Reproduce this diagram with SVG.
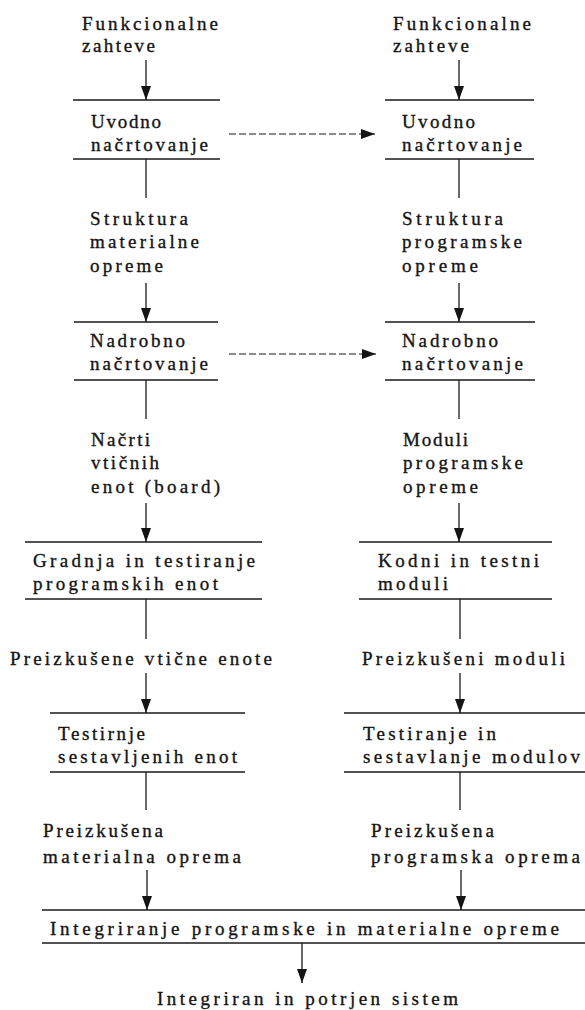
<svg xmlns="http://www.w3.org/2000/svg" width="585" height="1010" viewBox="0 0 585 1010">
  <style>
    text { font-family: "Liberation Serif", "Times New Roman", serif; font-size: 19px; fill: #141414; stroke: #141414; stroke-width: 0.35; }
    .bar { stroke: #1a1a1a; stroke-width: 1.4; }
    .link { stroke: #1a1a1a; stroke-width: 1.3; fill: none; }
    .dash { stroke-dasharray: 7 3; stroke-width: 1.1; }
  </style>
  <defs>
    <marker id="head" markerUnits="userSpaceOnUse" markerWidth="15" markerHeight="11" refX="14" refY="5" orient="auto">
      <path d="M0,0 L14,5 L0,10 z" fill="#141414"/>
    </marker>
  </defs>
  <rect width="585" height="1010" fill="#ffffff"/>

  <!-- left column: hardware flow -->
  <g id="l-requirements">
    <text x="82" y="30" textLength="136" lengthAdjust="spacing">Funkcionalne</text>
    <text x="82" y="52" textLength="73" lengthAdjust="spacing">zahteve</text>
  </g>
  <g id="l-preliminary-design">
    <line class="bar" x1="73" y1="100" x2="220" y2="100"/>
    <text x="91" y="128" textLength="70" lengthAdjust="spacing">Uvodno</text>
    <text x="91" y="151" textLength="117" lengthAdjust="spacing">načrtovanje</text>
    <line class="bar" x1="73" y1="159" x2="220" y2="159"/>
  </g>
  <g id="l-hw-structure">
    <text x="90" y="225" textLength="98" lengthAdjust="spacing">Struktura</text>
    <text x="90" y="248" textLength="109" lengthAdjust="spacing">materialne</text>
    <text x="90" y="272" textLength="73" lengthAdjust="spacing">opreme</text>
  </g>
  <g id="l-detailed-design">
    <line class="bar" x1="74" y1="322" x2="218" y2="322"/>
    <text x="90" y="347" textLength="95" lengthAdjust="spacing">Nadrobno</text>
    <text x="90" y="370" textLength="118" lengthAdjust="spacing">načrtovanje</text>
    <line class="bar" x1="74" y1="380" x2="218" y2="380"/>
  </g>
  <g id="l-board-designs">
    <text x="91" y="446" textLength="59" lengthAdjust="spacing">Načrti</text>
    <text x="91" y="469" textLength="68" lengthAdjust="spacing">vtičnih</text>
    <text x="91" y="493" textLength="129" lengthAdjust="spacing">enot (board)</text>
  </g>
  <g id="l-build-test">
    <line class="bar" x1="25" y1="542" x2="262" y2="542"/>
    <text x="33" y="567" textLength="222" lengthAdjust="spacing">Gradnja in testiranje</text>
    <text x="33" y="590" textLength="185" lengthAdjust="spacing">programskih enot</text>
    <line class="bar" x1="25" y1="599" x2="262" y2="599"/>
  </g>
  <g id="l-tested-boards">
    <text x="10" y="665" textLength="262" lengthAdjust="spacing">Preizkušene vtične enote</text>
  </g>
  <g id="l-assembly-test">
    <line class="bar" x1="50" y1="713" x2="245" y2="713"/>
    <text x="58" y="740" textLength="87" lengthAdjust="spacing">Testirnje</text>
    <text x="58" y="763" textLength="179" lengthAdjust="spacing">sestavljenih enot</text>
    <line class="bar" x1="50" y1="772" x2="245" y2="772"/>
  </g>
  <g id="l-tested-hw">
    <text x="43" y="837" textLength="120" lengthAdjust="spacing">Preizkušena</text>
    <text x="43" y="863" textLength="198" lengthAdjust="spacing">materialna oprema</text>
  </g>

  <!-- right column: software flow -->
  <g id="r-requirements">
    <text x="393" y="30" textLength="138" lengthAdjust="spacing">Funkcionalne</text>
    <text x="393" y="52" textLength="76" lengthAdjust="spacing">zahteve</text>
  </g>
  <g id="r-preliminary-design">
    <line class="bar" x1="385" y1="100" x2="534" y2="100"/>
    <text x="402" y="128" textLength="73" lengthAdjust="spacing">Uvodno</text>
    <text x="402" y="151" textLength="120" lengthAdjust="spacing">načrtovanje</text>
    <line class="bar" x1="385" y1="159" x2="534" y2="159"/>
  </g>
  <g id="r-sw-structure">
    <text x="402" y="225" textLength="101" lengthAdjust="spacing">Struktura</text>
    <text x="402" y="248" textLength="120" lengthAdjust="spacing">programske</text>
    <text x="402" y="272" textLength="76" lengthAdjust="spacing">opreme</text>
  </g>
  <g id="r-detailed-design">
    <line class="bar" x1="385" y1="322" x2="535" y2="322"/>
    <text x="402" y="347" textLength="96" lengthAdjust="spacing">Nadrobno</text>
    <text x="402" y="370" textLength="121" lengthAdjust="spacing">načrtovanje</text>
    <line class="bar" x1="385" y1="380" x2="535" y2="380"/>
  </g>
  <g id="r-sw-modules">
    <text x="403" y="446" textLength="65" lengthAdjust="spacing">Moduli</text>
    <text x="403" y="469" textLength="120" lengthAdjust="spacing">programske</text>
    <text x="403" y="493" textLength="75" lengthAdjust="spacing">opreme</text>
  </g>
  <g id="r-code-test">
    <line class="bar" x1="359" y1="542" x2="552" y2="542"/>
    <text x="378" y="567" textLength="161" lengthAdjust="spacing">Kodni in testni</text>
    <text x="378" y="590" textLength="70" lengthAdjust="spacing">moduli</text>
    <line class="bar" x1="359" y1="599" x2="552" y2="599"/>
  </g>
  <g id="r-tested-modules">
    <text x="362" y="665" textLength="203" lengthAdjust="spacing">Preizkušeni moduli</text>
  </g>
  <g id="r-module-integration">
    <line class="bar" x1="344" y1="713" x2="585" y2="713"/>
    <text x="363" y="740" textLength="133" lengthAdjust="spacing">Testiranje in</text>
    <text x="363" y="763" textLength="217" lengthAdjust="spacing">sestavlanje modulov</text>
    <line class="bar" x1="344" y1="772" x2="585" y2="772"/>
  </g>
  <g id="r-tested-sw">
    <text x="371" y="837" textLength="123" lengthAdjust="spacing">Preizkušena</text>
    <text x="371" y="863" textLength="209" lengthAdjust="spacing">programska oprema</text>
  </g>

  <!-- joint stage -->
  <g id="hw-sw-integration">
    <line class="bar" x1="42" y1="910" x2="585" y2="910"/>
    <text x="50" y="935" textLength="509" lengthAdjust="spacing">Integriranje programske in materialne opreme</text>
    <line class="bar" x1="42" y1="943" x2="585" y2="943"/>
  </g>
  <g id="verified-system">
    <text x="157" y="1005" textLength="301" lengthAdjust="spacing">Integriran in potrjen sistem</text>
  </g>

  <!-- connectors -->
  <g id="connectors">
    <!-- left column -->
    <line class="link" x1="146" y1="60" x2="146" y2="100" marker-end="url(#head)"/>
    <line class="link" x1="146" y1="159" x2="146" y2="198"/>
    <line class="link" x1="146" y1="283" x2="146" y2="322" marker-end="url(#head)"/>
    <line class="link" x1="146" y1="380" x2="146" y2="419"/>
    <line class="link" x1="146" y1="503" x2="146" y2="542" marker-end="url(#head)"/>
    <line class="link" x1="146" y1="599" x2="146" y2="639"/>
    <line class="link" x1="146" y1="673" x2="146" y2="713" marker-end="url(#head)"/>
    <line class="link" x1="146" y1="772" x2="146" y2="810"/>
    <line class="link" x1="147" y1="870" x2="147" y2="910" marker-end="url(#head)"/>
    <!-- right column -->
    <line class="link" x1="459" y1="60" x2="459" y2="100" marker-end="url(#head)"/>
    <line class="link" x1="459" y1="159" x2="459" y2="198"/>
    <line class="link" x1="459" y1="283" x2="459" y2="322" marker-end="url(#head)"/>
    <line class="link" x1="459" y1="380" x2="459" y2="419"/>
    <line class="link" x1="459" y1="503" x2="459" y2="542" marker-end="url(#head)"/>
    <line class="link" x1="460" y1="599" x2="460" y2="639"/>
    <line class="link" x1="460" y1="673" x2="460" y2="713" marker-end="url(#head)"/>
    <line class="link" x1="460" y1="772" x2="460" y2="810"/>
    <line class="link" x1="461" y1="870" x2="461" y2="910" marker-end="url(#head)"/>
    <!-- cross links between design stages -->
    <line class="link dash" x1="229" y1="134" x2="375" y2="134" marker-end="url(#head)"/>
    <line class="link dash" x1="229" y1="354" x2="376" y2="354" marker-end="url(#head)"/>
    <!-- final output -->
    <line class="link" x1="302" y1="943" x2="302" y2="983" marker-end="url(#head)"/>
  </g>
</svg>
